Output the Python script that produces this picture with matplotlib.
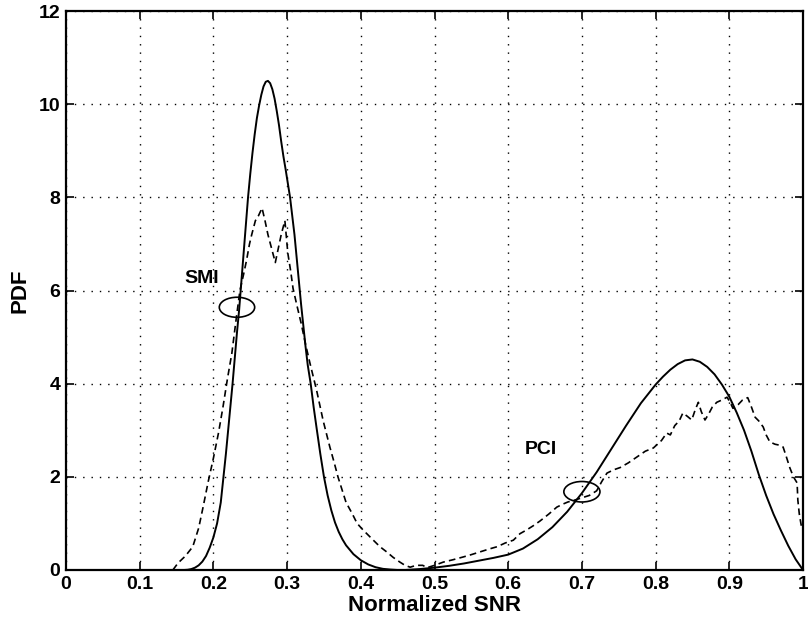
import numpy as np
import matplotlib
matplotlib.use("Agg")
import matplotlib.pyplot as plt
from matplotlib.patches import Ellipse

plt.rcParams['font.family'] = ['Liberation Sans', 'DejaVu Sans']
plt.rcParams['font.weight'] = 'bold'
plt.rcParams['axes.labelweight'] = 'bold'

# analytic PDF (solid)
snr_theory = [0.0, 0.16, 0.165, 0.17, 0.175, 0.18, 0.185, 0.19, 0.195, 0.2,
              0.205, 0.21, 0.213, 0.217, 0.22, 0.223, 0.226, 0.229, 0.232, 0.235,
              0.238, 0.241, 0.244, 0.247, 0.25, 0.253, 0.256, 0.259, 0.262, 0.265,
              0.268, 0.271, 0.274, 0.277, 0.28, 0.283, 0.286, 0.289, 0.292, 0.295,
              0.298, 0.301, 0.304, 0.307, 0.31, 0.313, 0.316, 0.319, 0.322, 0.325,
              0.328, 0.332, 0.336, 0.34, 0.345, 0.35, 0.355, 0.36, 0.365, 0.37,
              0.375, 0.38, 0.39, 0.4, 0.41, 0.42, 0.43, 0.44, 0.45, 0.46,
              0.47, 0.48, 0.5, 0.52, 0.54, 0.56, 0.58, 0.6, 0.62, 0.64,
              0.66, 0.68, 0.7, 0.72, 0.74, 0.76, 0.78, 0.8, 0.81, 0.82,
              0.83, 0.84, 0.85, 0.86, 0.87, 0.88, 0.89, 0.9, 0.91, 0.92,
              0.93, 0.94, 0.95, 0.96, 0.97, 0.98, 0.99, 1.0]
pdf_theory = [0.0, 0.0, 0.005, 0.02, 0.05, 0.1, 0.18, 0.3, 0.48, 0.7,
              1.0, 1.45, 1.9, 2.5, 3.0, 3.5, 4.0, 4.55, 5.1, 5.6,
              6.2, 6.8, 7.4, 8.0, 8.5, 8.95, 9.35, 9.7, 9.97, 10.2,
              10.38, 10.48, 10.5, 10.45, 10.32, 10.12, 9.85, 9.55, 9.2, 8.88,
              8.6, 8.3, 8.0, 7.6, 7.2, 6.7, 6.2, 5.7, 5.25, 4.8,
              4.4, 4.0, 3.5, 3.05, 2.5, 2.0, 1.6, 1.28, 1.02, 0.82,
              0.66, 0.53, 0.34, 0.21, 0.12, 0.06, 0.025, 0.01, 0.0, 0.0,
              0.01, 0.02, 0.05, 0.09, 0.14, 0.2, 0.26, 0.33, 0.46, 0.66,
              0.92, 1.25, 1.65, 2.1, 2.6, 3.1, 3.58, 3.98, 4.15, 4.3,
              4.42, 4.5, 4.52, 4.47, 4.36, 4.2, 3.98, 3.72, 3.38, 3.0,
              2.55, 2.05, 1.6, 1.2, 0.85, 0.52, 0.23, 0.0]

# simulated histogram (dashed)
snr_sim = [0.145, 0.152, 0.162, 0.172, 0.18, 0.186, 0.193, 0.2, 0.207, 0.213,
           0.219, 0.225, 0.231, 0.236, 0.241, 0.245, 0.249, 0.252, 0.257, 0.261,
           0.266, 0.27, 0.274, 0.279, 0.284, 0.288, 0.292, 0.297, 0.301, 0.305,
           0.308, 0.313, 0.319, 0.325, 0.331, 0.34, 0.349, 0.358, 0.364, 0.369,
           0.375, 0.38, 0.388, 0.395, 0.403, 0.41, 0.417, 0.426, 0.435, 0.444,
           0.453, 0.46, 0.467, 0.475, 0.484, 0.49, 0.5, 0.512, 0.525, 0.539,
           0.55, 0.562, 0.574, 0.585, 0.596, 0.607, 0.616, 0.625, 0.634, 0.643,
           0.655, 0.666, 0.675, 0.681, 0.69, 0.7, 0.71, 0.72, 0.727, 0.734,
           0.743, 0.752, 0.763, 0.775, 0.786, 0.797, 0.808, 0.815, 0.82, 0.826,
           0.832, 0.837, 0.843, 0.849, 0.854, 0.858, 0.862, 0.867, 0.872, 0.877,
           0.883, 0.89, 0.897, 0.901, 0.905, 0.912, 0.918, 0.925, 0.93, 0.935,
           0.94, 0.946, 0.95, 0.955, 0.962, 0.968, 0.973, 0.977, 0.982, 0.987,
           0.992, 0.993, 0.995, 0.998, 1.0]
pdf_sim = [0.0, 0.15, 0.3, 0.5, 0.9, 1.35, 1.9, 2.4, 2.95, 3.5,
           4.1, 4.65, 5.4, 6.0, 6.35, 6.65, 7.0, 7.2, 7.5, 7.6,
           7.77, 7.5, 7.2, 6.9, 6.6, 6.9, 7.2, 7.5, 6.8, 6.4,
           6.05, 5.7, 5.3, 4.85, 4.44, 3.86, 3.2, 2.64, 2.3, 2.0,
           1.7, 1.45, 1.22, 1.0, 0.86, 0.75, 0.64, 0.5, 0.39, 0.27,
           0.17, 0.1, 0.06, 0.1, 0.1, 0.05, 0.1, 0.17, 0.22, 0.28,
           0.33, 0.39, 0.45, 0.5, 0.58, 0.64, 0.78, 0.86, 0.95, 1.05,
           1.2, 1.35, 1.42, 1.46, 1.5, 1.55, 1.6, 1.7, 1.9, 2.08,
           2.15, 2.2, 2.3, 2.43, 2.55, 2.62, 2.78, 2.94, 2.9, 3.1,
           3.2, 3.37, 3.3, 3.22, 3.45, 3.6, 3.4, 3.22, 3.35, 3.5,
           3.6, 3.65, 3.71, 3.6, 3.47, 3.55, 3.65, 3.7, 3.5, 3.28,
           3.2, 3.07, 2.9, 2.75, 2.7, 2.68, 2.64, 2.45, 2.2, 2.0,
           1.87, 1.5, 1.2, 0.92, 0.85]

x_ticks = [0, 0.1, 0.2, 0.3, 0.4, 0.5, 0.6, 0.7, 0.8, 0.9, 1]
x_labels = ['0', '0.1', '0.2', '0.3', '0.4', '0.5', '0.6', '0.7', '0.8', '0.9', '1']
y_ticks = [0, 2, 4, 6, 8, 10, 12]

fig = plt.figure(figsize=(8.08, 6.27), dpi=100)
ax = fig.add_axes([66 / 808, 57 / 627, 737 / 808, 559 / 627])

ax.plot(snr_theory, pdf_theory, color='black', lw=1.4)
ax.plot(snr_sim, pdf_sim, color='black', lw=1.2, linestyle=(0, (4, 2.5)))

ax.add_patch(Ellipse((0.232, 5.64), 0.048, 0.43, fill=False, ec='black', lw=1.2))
ax.add_patch(Ellipse((0.700, 1.68), 0.049, 0.44, fill=False, ec='black', lw=1.2))
ax.text(0.161, 6.25, 'SMI', fontsize=14, va='center', ha='left')
ax.text(0.623, 2.58, 'PCI', fontsize=14, va='center', ha='left')

ax.set_xlim(0, 1)
ax.set_ylim(0, 12)
ax.set_xticks(x_ticks)
ax.set_xticklabels(x_labels)
ax.set_yticks(y_ticks)
ax.grid(True, color='black', linestyle=(0, (1, 5)), lw=1.0)
ax.tick_params(direction='in', length=6, width=1.2, top=True, right=True,
               labelsize=14, pad=4)
for s in ax.spines.values():
    s.set_linewidth(1.6)

ax.set_xlabel('Normalized SNR', fontsize=16, labelpad=2)
ax.set_ylabel('PDF', fontsize=16, labelpad=6)

fig.savefig('out.png', dpi=100)
